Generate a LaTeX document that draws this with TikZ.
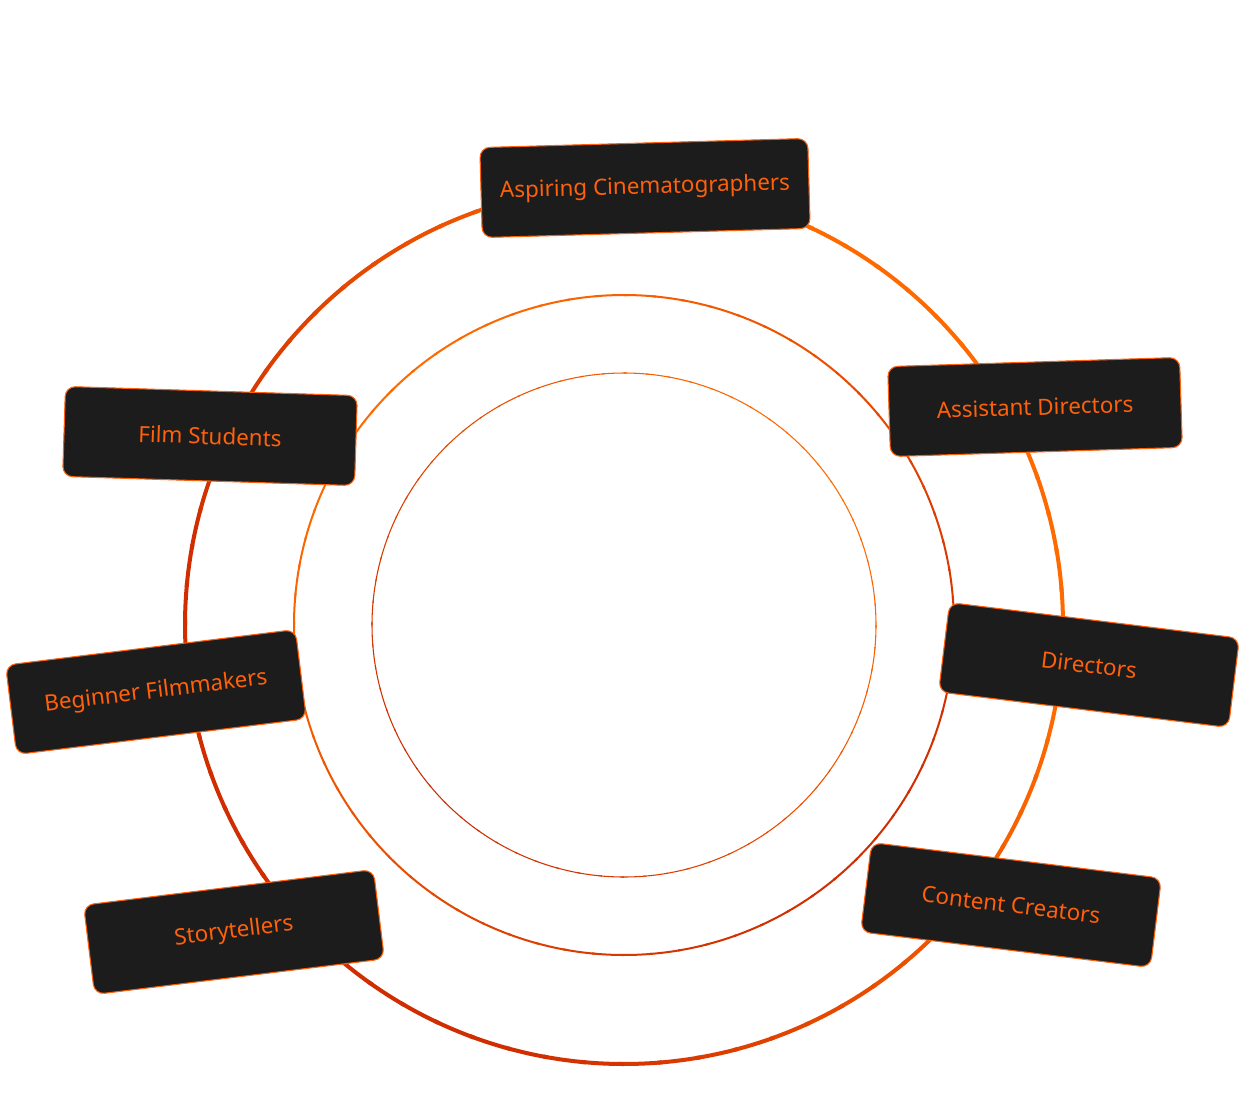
\documentclass[tikz,border=0pt]{standalone}
\usepackage{fontspec}
\setmainfont{Noto Sans}
\definecolor{boxfill}{HTML}{1C1C1C}
\definecolor{txtorange}{HTML}{FF600A}
\definecolor{ringbright}{HTML}{FF6A00}
\definecolor{ringdark}{HTML}{D02E00}
\tikzset{
  rolebox/.style={draw=txtorange, line width=0.8pt, fill=boxfill, rounded corners=7.5pt,
    minimum width=219pt, minimum height=67.5pt, text=txtorange, font=\fontsize{16.8}{18}\selectfont,
    inner sep=0pt},
}
\begin{document}
\begin{tikzpicture}[x=0.75pt,y=-0.75pt]
\useasboundingbox (0,0) rectangle (1249,1093);
\fill[white] (0,0) rectangle (1249,1093);
\coordinate (c) at (624,625);
% outer ring: bright towards right, dark towards lower-left
\foreach \a in {0,5,...,355}{
  \pgfmathsetmacro{\p}{max(0,min(100,50+70*cos(\a+35)))}
  \draw[line width=3pt, color=ringbright!\p!ringdark] (c) ++(\a:439) arc[start angle=\a, end angle=\a+5.6, radius=439];
}
% middle ring: bright towards upper-left
\foreach \a in {0,5,...,355}{
  \pgfmathsetmacro{\p}{50+50*cos(\a+140)}
  \draw[line width=1.5pt, color=ringbright!\p!ringdark] (c) ++(\a:330) arc[start angle=\a, end angle=\a+5.6, radius=330];
}
% inner ring
\foreach \a in {0,5,...,355}{
  \pgfmathsetmacro{\p}{50+50*cos(\a+40)}
  \draw[line width=0.8pt, color=ringbright!\p!ringdark] (c) ++(\a:252) arc[start angle=\a, end angle=\a+5.6, radius=252];
}
\node[rolebox, minimum width=246pt, rotate=1.6] (asp) at (645,188) {Aspiring Cinematographers};
\node[rolebox, rotate=1.8] (asd) at (1035,407) {Assistant Directors};
\node[rolebox, rotate=-1.8] (fs) at (210,436) {Film Students};
\node[rolebox, rotate=-7] (dir) at (1089,665) {Directors};
\node[rolebox, rotate=7] (bf) at (156,692) {Beginner Filmmakers};
\node[rolebox, rotate=-7] (cc) at (1011,905) {Content Creators};
\node[rolebox, rotate=7] (st) at (234,932) {Storytellers};
\end{tikzpicture}
\end{document}
